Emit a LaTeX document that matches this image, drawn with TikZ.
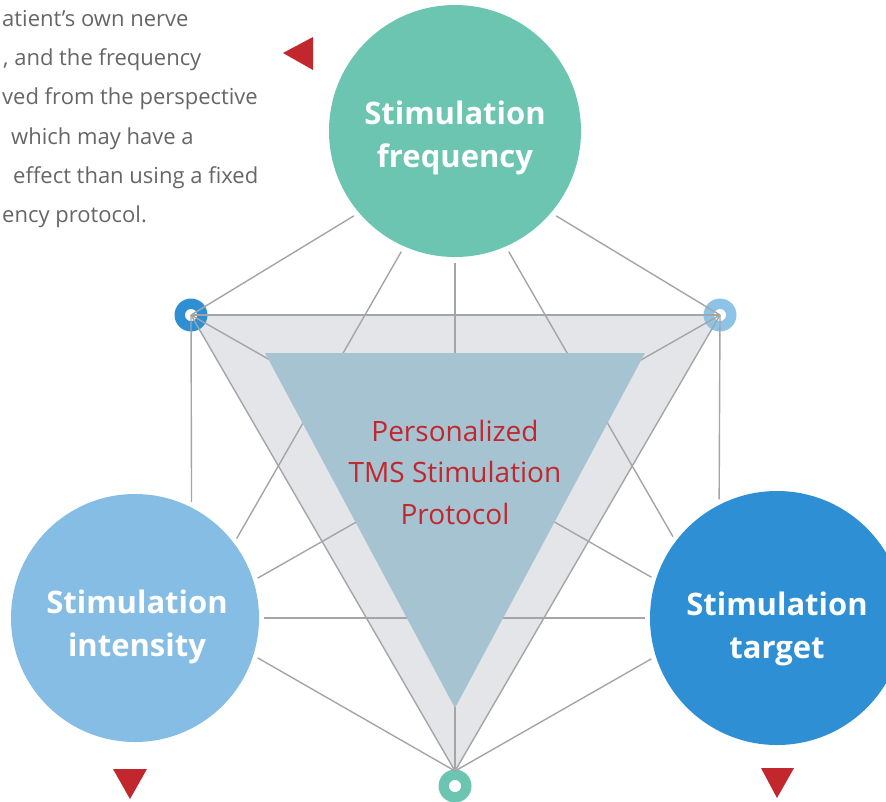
\documentclass[tikz,border=0pt]{standalone}
\usepackage{fontspec}
\setmainfont{Open Sans}
\usetikzlibrary{calc}

\definecolor{freqgreen}{HTML}{6BC5B0}
\definecolor{intblue}{HTML}{86BDE4}
\definecolor{targetblue}{HTML}{2E8FD4}
\definecolor{ringlight}{HTML}{8DC3E6}
\definecolor{panelgrey}{HTML}{E4E5E9}
\definecolor{coreblue}{HTML}{A6C3D2}
\definecolor{linkgrey}{HTML}{A5A5A5}
\definecolor{markred}{HTML}{C1272D}
\definecolor{bodygrey}{HTML}{666666}

\begin{document}
\begin{tikzpicture}[x=1pt,y=-1pt,
	factor/.style={circle,inner sep=0pt},
	factortext/.style={text=white,align=center,font=\fontsize{31}{43}\selectfont\bfseries},
	link/.style={linkgrey,line width=1.4pt},
	desc/.style={anchor=base west,inner sep=0pt,text=bodygrey,font=\fontsize{22}{26}\selectfont}]
	
	\useasboundingbox (0,0) rectangle (886,801);
	
	% corners of the grey panel
	\coordinate (TL) at (191,315);
	\coordinate (TR) at (720,315);
	\coordinate (B) at (455,771);
	\coordinate (Bring) at (455,786);
	
	\fill[panelgrey] (TL) -- (TR) -- (B) -- cycle;
	
	\fill[targetblue] (TL) circle (16.5pt);
	\fill[white] (TL) circle (6pt);
	\fill[ringlight] (TR) circle (16.5pt);
	\fill[white] (TR) circle (6pt);
	\fill[freqgreen] (Bring) circle (16.5pt);
	\fill[white] (Bring) circle (6pt);
	
	% the three factors
	\node[factor,fill=freqgreen,minimum size=252pt,outer sep=6pt] (freq) at (455,131) {};
	\node[factor,fill=intblue,minimum size=248pt,outer sep=5pt] (inten) at (135,618) {};
	\node[factor,fill=targetblue,minimum size=254pt,outer sep=5pt] (target) at (777,618) {};
	\node[factortext] (freqtext) at (455,138) {Stimulation\\frequency};
	\node[factortext] (intentext) at (137,627) {Stimulation\\intensity};
	\node[factortext] (targettext) at (777,629) {Stimulation\\target};
	
	\draw[link] (freq.220) -- (TL);
	\draw[link] (freq.320) -- (TR);
	\draw[link] (freq.246) -- (inten.38);
	\draw[link] (freq.270) -- (B);
	\draw[link] (freq.294) -- (target.142);
	\draw[link] (TL) -- (TR);
	\draw[link] (TL) -- (B);
	\draw[link] (TR) -- (B);
	\draw[link] (TL) -- (inten.64);
	\draw[link] (TR) -- (target.116);
	\draw[link] (TL) -- (target.162);
	\draw[link] (TR) -- (inten.18);
	\draw[link] (inten.0) -- (target.180);
	\draw[link] (inten.342) -- (B);
	\draw[link] (target.198) -- (B);
	
	% inner triangle
	\fill[coreblue] (265,353) -- (645,353) -- (455,708) -- cycle;
	\node[text=markred,align=center,font=\fontsize{28}{41.5}\selectfont] (core) at (455,472) {Personalized\\TMS Stimulation\\Protocol};
	
	\fill[markred] (283,53) -- (313,37) -- (313,70) -- cycle;
	\fill[markred] (113,769) -- (147,769) -- (130,799) -- cycle;
	\fill[markred] (761,768) -- (794,768) -- (777,798) -- cycle;
	
	\node[desc] (d1) at (2,26) {atient’s own nerve};
	\node[desc] (d2) at (3,65) {, and the frequency};
	\node[desc] (d3) at (2,104) {ved from the perspective};
	\node[desc] (d4) at (11,144) {which may have a};
	\node[desc] (d5) at (13,183) {effect than using a fixed};
	\node[desc] (d6) at (2,222) {ency protocol.};
	
\end{tikzpicture}
\end{document}
